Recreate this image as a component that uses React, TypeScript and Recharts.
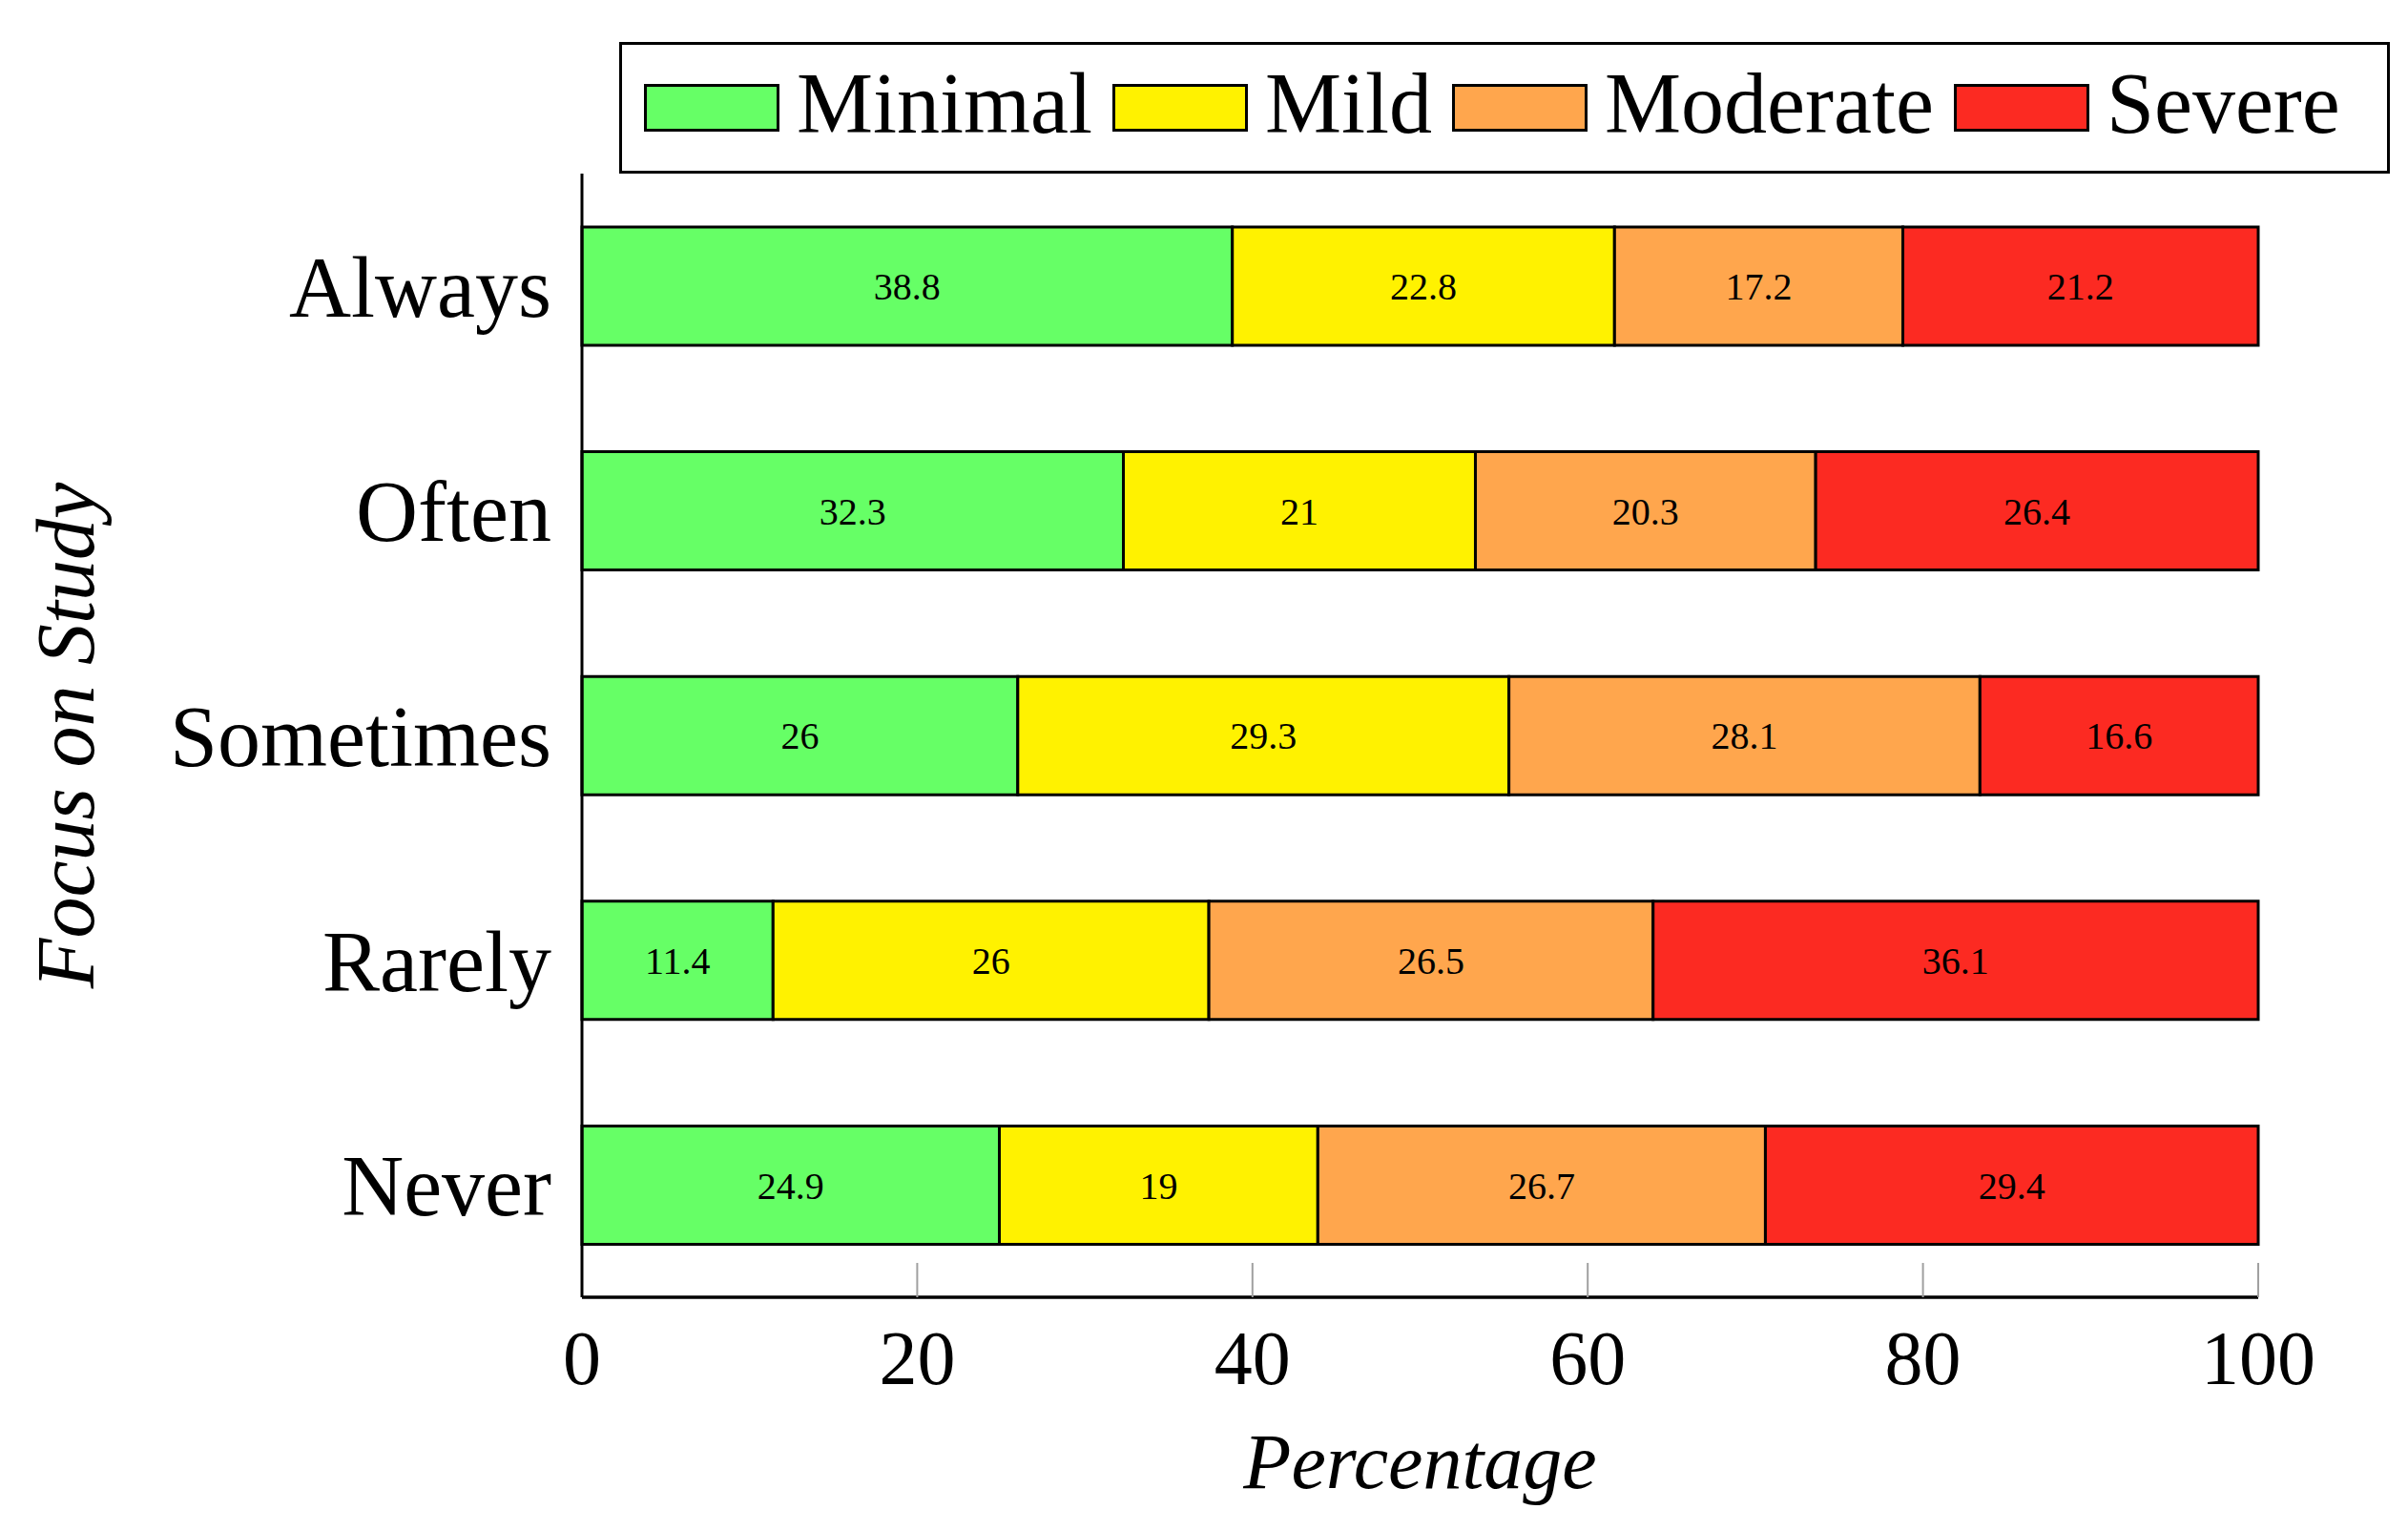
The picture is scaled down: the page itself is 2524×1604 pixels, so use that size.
import {Bar, BarChart, LabelList, XAxis, YAxis} from 'recharts';

const categories = ['Always', 'Often', 'Sometimes', 'Rarely', 'Never'];
const minimal = [38.8, 32.3, 26, 11.4, 24.9];
const mild = [22.8, 21, 29.3, 26, 19];
const moderate = [17.2, 20.3, 28.1, 26.5, 26.7];
const severe = [21.2, 26.4, 16.6, 36.1, 29.4];
const xTicks = [0, 20, 40, 60, 80, 100];

const seriesNames = ['Minimal', 'Mild', 'Moderate', 'Severe'];
const seriesKeys = ['minimal', 'mild', 'moderate', 'severe'];
const seriesColors = ['#66FF66', '#FFF200', '#FFA64D', '#FC2A22'];

const FONT = "'Liberation Serif', 'Times New Roman', serif";
const X_TICK_MARGIN = 34;

const chartData = categories.map((name, i) => ({
  name,
  minimal: minimal[i],
  mild: mild[i],
  moderate: moderate[i],
  severe: severe[i],
}));

function PercentTick(props: any) {
  const {x, y, payload} = props;
  const axisY = y - X_TICK_MARGIN;
  return (
    <g>
      {payload.value !== 0 && (
        <line
          x1={x}
          x2={x}
          y1={axisY}
          y2={axisY - 36}
          stroke="#a0a0a0"
          strokeWidth={2}
        />
      )}
      <text
        x={x}
        y={y}
        dy="0.71em"
        textAnchor="middle"
        fontSize={80}
        fontFamily={FONT}
        fill="#000"
      >
        {payload.value}
      </text>
    </g>
  );
}

function YTitle({viewBox}: any) {
  const cy = viewBox ? viewBox.y + viewBox.height / 2 : 772;
  return (
    <text
      transform={`translate(98, ${cy}) rotate(-90)`}
      textAnchor="middle"
      fontSize={86}
      fontStyle="italic"
      fontFamily={FONT}
      fill="#000"
    >
      Focus on Study
    </text>
  );
}

function XTitle({viewBox}: any) {
  const cx = viewBox ? viewBox.x + viewBox.width / 2 : 1489;
  const top = viewBox ? viewBox.y : 1360;
  return (
    <text
      x={cx}
      y={top + 200}
      textAnchor="middle"
      fontSize={82}
      fontStyle="italic"
      fontFamily={FONT}
      fill="#000"
    >
      Percentage
    </text>
  );
}

function LegendBox() {
  return (
    <div
      style={{
        position: 'absolute',
        left: 649,
        top: 44,
        width: 1856,
        height: 138,
        border: '3px solid #000',
        boxSizing: 'border-box',
        display: 'flex',
        alignItems: 'center',
        paddingLeft: 23,
        background: '#fff',
      }}
    >
      {seriesNames.map((name, i) => (
        <div key={name} style={{display: 'flex', alignItems: 'center'}}>
          <div
            style={{
              width: 142,
              height: 50,
              border: '3px solid #000',
              boxSizing: 'border-box',
              background: seriesColors[i],
              marginRight: 18,
            }}
          />
          <span
            style={{
              fontFamily: FONT,
              fontSize: 90,
              lineHeight: 1,
              position: 'relative',
              top: -4,
              marginRight: 21,
            }}
          >
            {name}
          </span>
        </div>
      ))}
    </div>
  );
}

export default function App() {
  return (
    <div
      style={{
        position: 'absolute',
        left: 0,
        top: 0,
        width: 2524,
        height: 1604,
        background: '#fff',
      }}
    >
      <BarChart
        width={2524}
        height={1604}
        data={chartData}
        layout="vertical"
        margin={{top: 182, right: 157, bottom: 0, left: 0}}
        barSize={124}
      >
        <XAxis
          type="number"
          domain={[0, 100]}
          ticks={xTicks}
          height={244}
          tickSize={0}
          tickMargin={X_TICK_MARGIN}
          tickLine={false}
          axisLine={{stroke: '#000', strokeWidth: 3.5}}
          tick={<PercentTick />}
          label={<XTitle />}
        />
        <YAxis
          type="category"
          dataKey="name"
          width={610}
          tickSize={0}
          tickMargin={32}
          tickLine={false}
          axisLine={{stroke: '#000', strokeWidth: 3}}
          tick={{fontSize: 90, fontFamily: FONT, fill: '#000'}}
          label={<YTitle />}
        />
        {seriesKeys.map((key, i) => (
          <Bar
            key={key}
            dataKey={key}
            name={seriesNames[i]}
            stackId="a"
            fill={seriesColors[i]}
            stroke="#000"
            strokeWidth={3}
            isAnimationActive={false}
          >
            <LabelList
              dataKey={key}
              position="center"
              fill="#000"
              stroke="none"
              fontSize={40}
              fontFamily={FONT}
            />
          </Bar>
        ))}
      </BarChart>
      <LegendBox />
    </div>
  );
}
